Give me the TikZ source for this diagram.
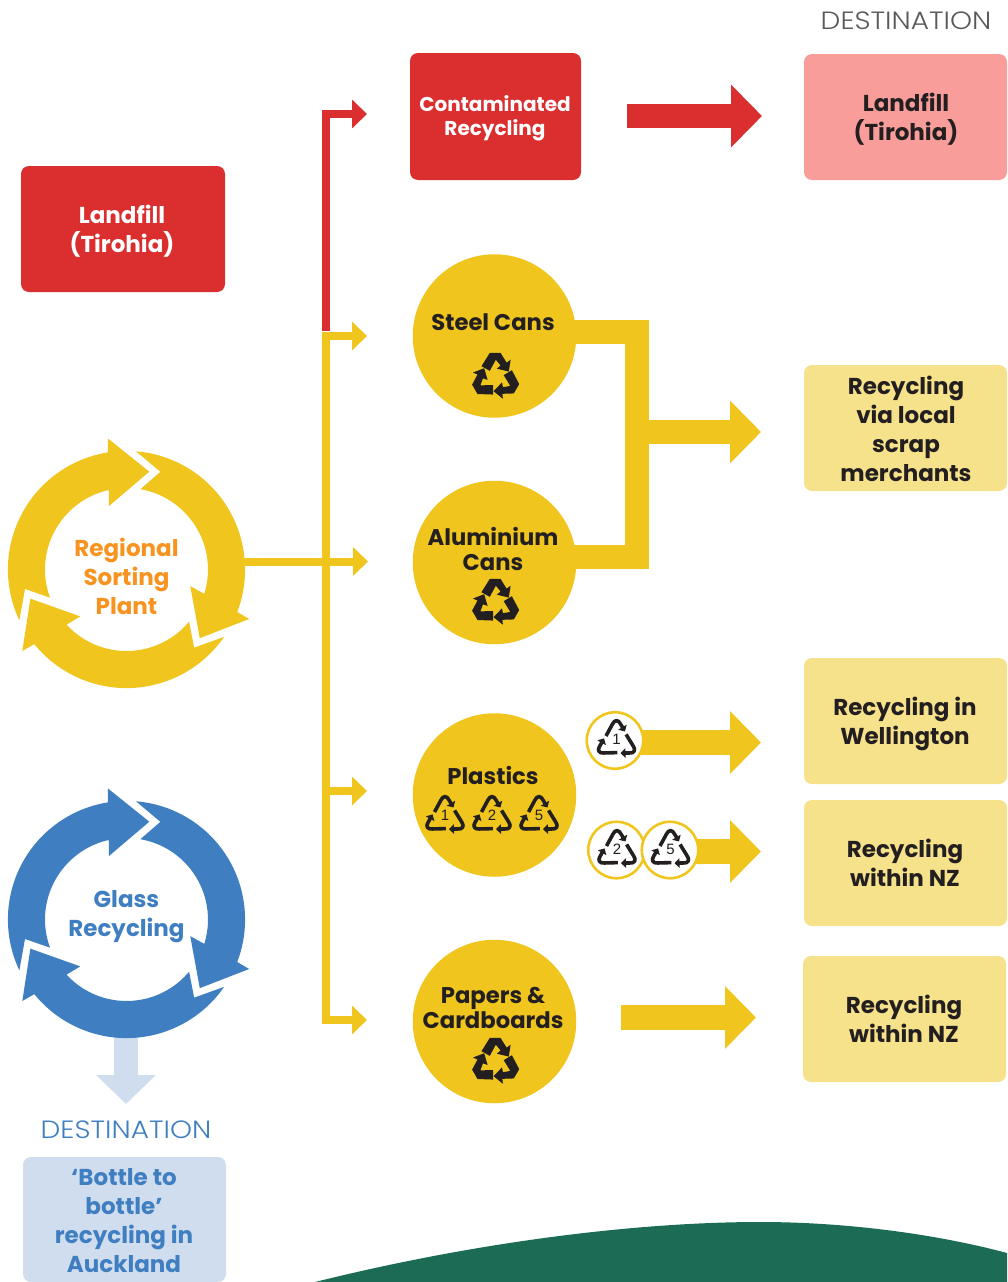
\documentclass[tikz,border=0pt]{standalone}
\usepackage{fontspec}
\setmainfont{Poppins}
\newfontfamily\lightf{Poppins Light}[FakeStretch=1.12]
\newfontfamily\digitf{Liberation Sans}
\usetikzlibrary{arrows.meta}
\definecolor{cyel}{HTML}{F0C61E}
\definecolor{cred}{HTML}{DB2E2F}
\definecolor{cpink}{HTML}{F89D9A}
\definecolor{cpale}{HTML}{F7E28C}
\definecolor{cblue}{HTML}{3F7FC1}
\definecolor{cpblue}{HTML}{CFDDEE}
\definecolor{cgreen}{HTML}{1B6B55}
\definecolor{corange}{HTML}{F7931E}
\definecolor{cdark}{HTML}{231F20}
\definecolor{cgray}{HTML}{58595B}
\tikzset{
  x=1pt,y=-1pt,
  lab/.style={font=\bfseries\fontsize{23}{29}\selectfont,align=center,text=cdark,inner sep=0pt},
  clab/.style={lab,font=\bfseries\fontsize{22.7}{24.5}\selectfont},
  conl/.style={lab,font=\bfseries\fontsize{20}{24.5}\selectfont},
  disc/.style={circle,fill=cyel,minimum size=163.5pt,inner sep=0pt},
  chip/.style={circle,fill=white,draw=cyel,line width=2.6pt,minimum size=56.5pt,inner sep=0pt},
  thinarrow/.style={line width=8pt,-{Triangle[length=15pt,width=28pt]}},
  bigarrow/.style={line width=24.5pt,-{Triangle[length=31pt,width=61pt]}},
  dest/.style={font=\lightf\fontsize{25}{28}\selectfont,inner sep=0pt},
  pics/plastic/.style={code={
    \begin{scope}[y=1pt]
      \foreach \a in {0,-120,-240}{
        \draw[rotate=\a,cdark,line width=3.6pt,line join=round,-{Triangle[length=5pt,width=9.5pt]}]
          (-10.5,5) -- (-4,17) .. controls (-2,21.5) and (2,21.5) .. (4,17) -- (8.5,9.5);
      }
      \node[inner sep=0pt,text=cdark,font=\digitf\fontsize{15}{15}\selectfont] (num) at (0,1.5) {#1};
    \end{scope}}},
  pics/recyc/.style={code={
    \begin{scope}[y=1pt,scale=1.08]
      \foreach \a in {0,-120,-240}{
        \fill[rotate=\a,cdark] (-13,10) -- (-5.3,22.3) -- (4.7,22.3) -- (10.3,13.3) -- (14,16) -- (12.3,5)
          -- (1.3,7.7) -- (4.7,10.7) -- (0.3,16) -- (-5.3,5.7) -- cycle;
      }
    \end{scope}}},
  pics/ring/.style={code={
    \begin{scope}[y=1pt]
      \foreach \a in {0,-120,-240}{
        \fill[rotate=\a,#1] (205.4:118.6) arc[start angle=205.4,end angle=99,radius=118.6pt]
          -- (-18.5,131) -- (22.8,97.8) -- (-17.5,63.5) -- (102.6:81.5)
          arc[start angle=102.6,end angle=200.2,radius=81.5pt] -- (-101.5,-19.5) -- cycle;
      }
    \end{scope}}}
}
\begin{document}
\begin{tikzpicture}
\useasboundingbox (0,0) rectangle (1007,1282);
% hill
\fill[cgreen] (315,1282) .. controls (480,1241) and (640,1222) .. (760,1222) .. controls (850,1222) and (940,1235) .. (1007,1253) -- (1007,1282) -- cycle;

% coordinates
\coordinate (sortc) at (126.5,569.5);
\coordinate (glassc) at (126.5,919.5);
\coordinate (rc) at (326,114);
\coordinate (rb) at (326,331);
\coordinate (t1) at (326,336);
\coordinate (t2) at (326,1020);
\coordinate (i1) at (367,114);
\coordinate (i2) at (367,336);
\coordinate (i3) at (368,561.5);
\coordinate (i4) at (367,791);
\coordinate (i5) at (367,1020);
\coordinate (j4) at (326,791);
\coordinate (sortout) at (240,561.5);
\coordinate (conout) at (627,116);
\coordinate (conin) at (762,116);
\coordinate (sa) at (560,332);
\coordinate (sb) at (637,332);
\coordinate (sc) at (637,557);
\coordinate (sd) at (560,557);
\coordinate (se) at (637,432);
\coordinate (scrapin) at (761,432);
\coordinate (p1a) at (630,742.5);
\coordinate (p1b) at (761,742.5);
\coordinate (p2a) at (680,851.5);
\coordinate (p2b) at (761,851.5);
\coordinate (papa) at (621,1017.5);
\coordinate (papb) at (756,1017.5);
\coordinate (glassout) at (126,1030);
\coordinate (glassin) at (126,1104);

% thin connectors
\draw[cred,thinarrow] (rb) -- (rc) -- (i1);
\draw[cyel,line width=8pt,{Triangle[length=15pt,width=28pt]}-{Triangle[length=15pt,width=28pt]}] (i2) -- (t1) -- (t2) -- (i5);
\draw[cyel,thinarrow] (j4) -- (i4);
\draw[cyel,thinarrow] (sortout) -- (i3);

% big connectors
\draw[cred,bigarrow] (conout) -- (conin);
\draw[cyel,line width=24.5pt] (sa) -- (sb) -- (sc) -- (sd);
\draw[cyel,bigarrow] (se) -- (scrapin);
\draw[cyel,bigarrow] (p1a) -- (p1b);
\draw[cyel,bigarrow] (p2a) -- (p2b);
\draw[cyel,bigarrow] (papa) -- (papb);
\draw[cpblue,line width=24pt,-{Triangle[length=29pt,width=58pt]}] (glassout) -- (glassin);

% rings
\pic at (sortc) {ring=cyel};
\pic at (glassc) {ring=cblue};
\node[lab,text=corange] (sortlab) at (126.5,576) {Regional\\Sorting\\Plant};
\node[lab,text=cblue] (glasslab) at (126.5,916.5) {Glass\\Recycling};

% boxes
\path[fill=cred,rounded corners=8pt] (410,53) rectangle (581,180);
\node[conl,text=white] (conb) at (495,118) {Contaminated\\Recycling};
\path[fill=cpink,rounded corners=8pt] (804,54) rectangle (1007,180);
\node[lab] (landr) at (906,119) {Landfill\\(Tirohia)};
\path[fill=cred,rounded corners=8pt] (21,166) rectangle (225,292);
\node[lab,text=white] (landl) at (122,231) {Landfill\\(Tirohia)};
\path[fill=cpale,rounded corners=8pt] (804,365) rectangle (1007,491);
\node[lab] (scrap) at (906,428.5) {Recycling\\via local\\scrap\\merchants};
\path[fill=cpale,rounded corners=8pt] (804,658) rectangle (1007,784);
\node[lab] (well) at (905,723.5) {Recycling in\\Wellington};
\path[fill=cpale,rounded corners=8pt] (804,800) rectangle (1007,926);
\node[lab] (nza) at (905,863) {Recycling\\within NZ};
\path[fill=cpale,rounded corners=8pt] (803,956) rectangle (1006,1082);
\node[lab] (nzb) at (904,1019) {Recycling\\within NZ};
\path[fill=cpblue,rounded corners=8pt] (23,1157) rectangle (226,1282);
\node[lab,text=cblue] (auck) at (124,1220.5) {‘Bottle to\\bottle’\\recycling in\\Auckland};

% destination labels
\node[dest,text=cgray] (destr) at (906,21) {DESTINATION};
\node[dest,text=cblue] (destl) at (126,1130) {DESTINATION};

% discs
\node[disc] (steel) at (494.5,336) {};
\node[disc] (alu) at (494.5,562.5) {};
\node[disc] (plast) at (494.5,795) {};
\node[disc] (paper) at (494.5,1021.5) {};
\node[clab] (steell) at (493,322) {Steel Cans};
\node[clab] (alul) at (493,549) {Aluminium\\Cans};
\node[clab] (plastl) at (493,775) {Plastics};
\node[clab] (paperl) at (493,1008) {Papers \&\\Cardboards};
\pic at (495.5,377) {recyc};
\pic at (495.5,603) {recyc};
\pic at (495.5,1062) {recyc};
\pic (pa) at (445,817) {plastic=1};
\pic (pb) at (492,817) {plastic=2};
\pic (pc) at (539,817) {plastic=5};

% chips
\node[chip] (c1) at (615,740.5) {};
\node[chip] (c2) at (616.5,850) {};
\node[chip] (c5) at (670,850) {};
\pic (qa) at (616.5,741) {plastic=1};
\pic (qb) at (617,851) {plastic=2};
\pic (qc) at (670.5,851) {plastic=5};
\end{tikzpicture}
\end{document}
